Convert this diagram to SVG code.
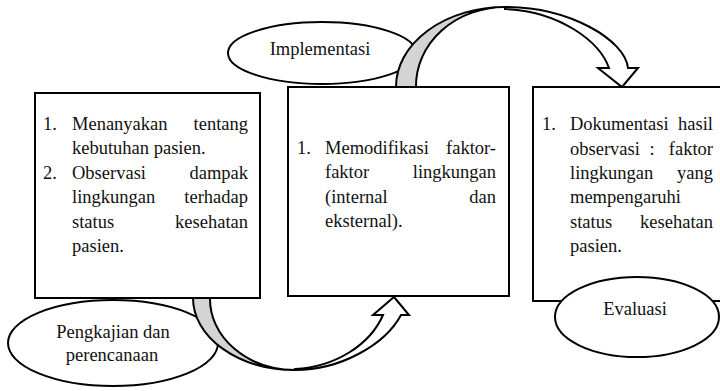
<svg xmlns="http://www.w3.org/2000/svg" width="720" height="391" viewBox="0 0 720 391">
  <style>
    .box { fill: #ffffff; stroke: #000000; stroke-width: 2; }
    .oval { fill: #ffffff; stroke: #000000; stroke-width: 2; }
    .back { fill: #d4d4d4; stroke: #000000; stroke-width: 2; stroke-linejoin: round; }
    .front { fill: #ffffff; stroke: #000000; stroke-width: 2; stroke-linejoin: miter; }
    text { font-family: "Liberation Serif", "Times New Roman", serif; font-size: 18.5px; fill: #111111; }
    .end { text-anchor: end; }
    .mid { text-anchor: middle; }
  </style>

  <!-- phase labels that sit behind the curved arrows -->
  <g id="label-implementasi">
    <ellipse class="oval" cx="322" cy="53" rx="94" ry="31"/>
    <text class="mid" x="320" y="55">Implementasi</text>
  </g>
  <g id="label-pengkajian">
    <ellipse class="oval" cx="113" cy="343" rx="105" ry="43"/>
    <text class="mid" x="113" y="338">Pengkajian dan</text>
    <text class="mid" x="112" y="361">perencanaan</text>
  </g>

  <!-- curved block arrows between the phases -->
  <g id="connectors">
    <!-- lower arrow: assessment box to implementation box -->
    <path class="back" d="M193,298 A102,72 0 0 0 295,370 A85,71 0 0 1 210,298 Z"/>
    <path class="front" d="M295,370 C340,370 385,345 401,315 L409,315 L394,297 L373,315 L383,315 C370,345 335,367 295,369 Z"/>
    <!-- upper arrow: implementation box to evaluation box -->
    <path class="back" d="M396,87 A109,80 0 0 1 505,7 A89,79 0 0 0 416,87 Z"/>
    <path class="front" d="M505,7 C570,7 625,40 628,68 L638,68 L622,87 L598,68 L609,68 C600,42 560,11 505,9 Z"/>
  </g>

  <g id="box-pengkajian">
    <rect class="box" x="35" y="93" width="225" height="205"/>
    <text x="43" y="130">1.</text>
    <text x="72" y="130">Menanyakan</text>
    <text class="end" x="248" y="130">tentang</text>
    <text x="72" y="154">kebutuhan pasien.</text>
    <text x="43" y="179">2.</text>
    <text x="72" y="179">Observasi</text>
    <text class="end" x="248" y="179">dampak</text>
    <text x="72" y="203">lingkungan</text>
    <text class="end" x="248" y="203">terhadap</text>
    <text x="72" y="228">status</text>
    <text class="end" x="248" y="228">kesehatan</text>
    <text x="72" y="252">pasien.</text>
  </g>

  <g id="box-implementasi">
    <rect class="box" x="288" y="87" width="221" height="209"/>
    <text x="297" y="154">1.</text>
    <text x="325" y="154">Memodifikasi</text>
    <text class="end" x="496" y="154">faktor-</text>
    <text x="325" y="178">faktor</text>
    <text class="end" x="496" y="178">lingkungan</text>
    <text x="325" y="203">(internal</text>
    <text class="end" x="496" y="203">dan</text>
    <text x="325" y="227">eksternal).</text>
  </g>

  <g id="box-evaluasi">
    <rect class="box" x="533" y="87" width="200" height="214"/>
    <text x="542" y="130">1.</text>
    <text x="570" y="130">Dokumentasi</text>
    <text class="end" x="713" y="130">hasil</text>
    <text x="570" y="155">observasi</text>
    <text class="mid" x="652" y="155">:</text>
    <text class="end" x="713" y="155">faktor</text>
    <text x="570" y="179">lingkungan</text>
    <text class="end" x="713" y="179">yang</text>
    <text x="570" y="203">mempengaruhi</text>
    <text x="570" y="228">status</text>
    <text class="end" x="713" y="228">kesehatan</text>
    <text x="570" y="252">pasien.</text>
  </g>

  <g id="label-evaluasi">
    <ellipse class="oval" cx="637" cy="317" rx="82" ry="40"/>
    <text class="mid" x="635" y="315">Evaluasi</text>
  </g>
</svg>
